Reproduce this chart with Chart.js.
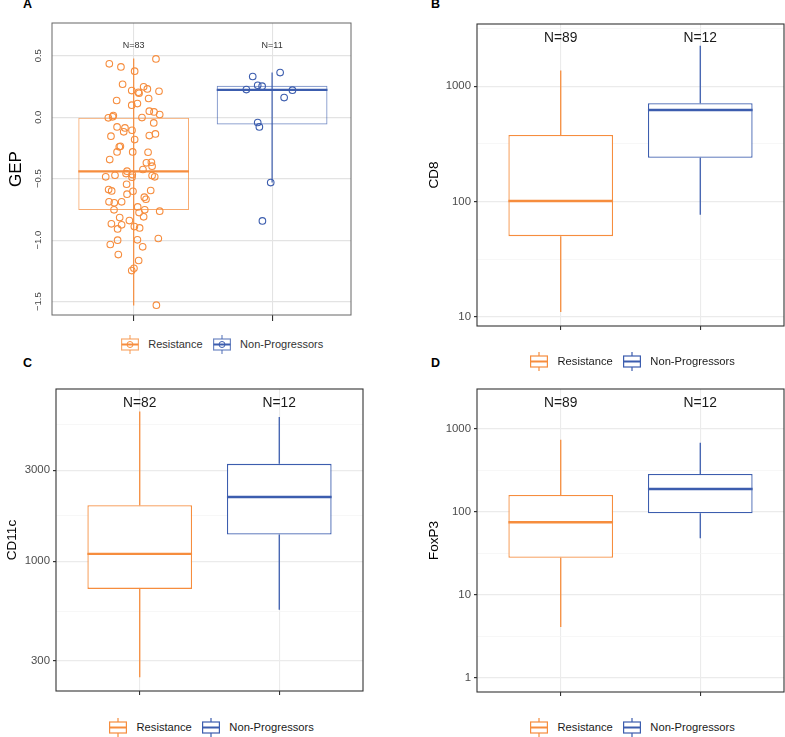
<!DOCTYPE html>
<html>
<head>
<meta charset="utf-8">
<script src="https://cdn.jsdelivr.net/npm/chart.js@4/dist/chart.umd.min.js"></script>
<style>
body{margin:0;background:#fff;width:785px;height:737px;position:relative;overflow:hidden;font-family:"Liberation Sans",Arial,sans-serif}
canvas.plot{position:absolute}
.tag{position:absolute;font-weight:bold;font-size:12.5px;line-height:12.5px;color:#000}
.legend{position:absolute;display:flex;align-items:center;height:19px;white-space:nowrap}
.legend canvas{display:block;margin-right:9.5px}
.legend span{margin-right:10px;line-height:19px}
</style>
</head>
<body>
<div class="tag" style="left:23px;top:-2px">A</div>
<div class="tag" style="left:431px;top:-2px">B</div>
<div class="tag" style="left:23px;top:357px">C</div>
<div class="tag" style="left:431px;top:357px">D</div>

<canvas id="gep" class="plot" width="390" height="325" style="left:0;top:0"></canvas>
<canvas id="cd8" class="plot" width="390" height="336" style="left:395px;top:0"></canvas>
<canvas id="cd11c" class="plot" width="390" height="331" style="left:0;top:370px"></canvas>
<canvas id="foxp3" class="plot" width="390" height="332" style="left:395px;top:370px"></canvas>

<script>
Chart.defaults.font.family = '"Liberation Sans", Arial, sans-serif';
Chart.defaults.animation = false;

const groups = ['Resistance', 'Non-Progressors'];
const orange = '#F68D3E';
const blue = '#3C5DAE';

// A: GEP
const gepN = [83, 11];
const gepLow = [-1.53, -0.53];
const gepQ1 = [-0.754, -0.06];
const gepMed = [-0.44, 0.222];
const gepQ3 = [0.0, 0.255];
const gepHigh = [0.477, 0.363];
const gepTicks = [-1.5, -1.0, -0.5, 0.0, 0.5];
const gepResJitter = [-0.176,-0.092,0.007,0.161,-0.080,0.072,0.099,-0.014,0.034,0.039,0.183,-0.123,0.108,-0.014,0.027,0.113,0.147,0.188,-0.147,-0.152,-0.183,0.060,0.145,-0.120,-0.063,-0.072,-0.012,-0.164,0.007,0.113,0.157,-0.096,-0.104,-0.120,-0.007,0.104,-0.173,0.092,0.128,0.133,0.067,-0.048,-0.055,-0.135,-0.202,-0.012,0.133,0.152,-0.051,-0.181,-0.159,-0.005,-0.048,0.123,0.077,0.089,-0.178,-0.140,-0.087,0.029,0.039,0.080,-0.142,0.188,0.072,-0.101,-0.031,-0.161,-0.087,-0.116,0.005,0.043,-0.169,-0.116,0.027,0.178,0.065,-0.111,0.036,0.002,-0.014,0.164,-0.010];
const gepResValue = [0.434,0.409,0.374,0.474,0.268,0.247,0.230,0.217,0.203,0.195,0.211,0.136,0.152,0.098,0.111,0.049,0.043,0.022,0.014,0.003,-0.005,-0.003,-0.046,-0.079,-0.087,-0.119,-0.106,-0.154,-0.182,-0.149,-0.136,-0.236,-0.241,-0.282,-0.282,-0.285,-0.344,-0.371,-0.366,-0.398,-0.425,-0.439,-0.458,-0.472,-0.485,-0.488,-0.474,-0.485,-0.545,-0.588,-0.599,-0.602,-0.626,-0.596,-0.650,-0.667,-0.688,-0.696,-0.688,-0.729,-0.775,-0.753,-0.753,-0.764,-0.810,-0.816,-0.840,-0.867,-0.875,-0.908,-0.889,-0.900,-1.035,-1.000,-0.997,-0.986,-1.054,-1.117,-1.165,-1.228,-1.247,-1.528,-0.466];
const gepNpJitter = [-0.140,0.058,-0.186,-0.104,-0.072,0.147,0.087,-0.104,-0.092,-0.010,-0.070];
const gepNpValue = [0.331,0.363,0.225,0.260,0.252,0.220,0.160,-0.043,-0.079,-0.531,-0.843];

// B: CD8
const cd8N = [89, 12];
const cd8Low = [11, 76.6];
const cd8Q1 = [50, 239];
const cd8Med = [101, 622];
const cd8Q3 = [378, 713];
const cd8High = [1366, 2249];
const cd8Ticks = [10, 100, 1000];

// C: CD11c
const cd11cN = [82, 12];
const cd11cLow = [247, 557];
const cd11cQ1 = [716, 1379];
const cd11cMed = [1092, 2168];
const cd11cQ3 = [1966, 3236];
const cd11cHigh = [6080, 5690];
const cd11cTicks = [300, 1000, 3000];

// D: FoxP3
const foxp3N = [89, 12];
const foxp3Low = [4.1, 47.9];
const foxp3Q1 = [27.9, 95.6];
const foxp3Med = [74.5, 187.6];
const foxp3Q3 = [159, 284];
const foxp3High = [731, 672];
const foxp3Ticks = [1, 10, 100, 1000];

// minor grid lines halfway (in log space) between the labelled ticks
function withMinor(major, lo, hi) {
  const L = major.map(Math.log10);
  const n = L.length;
  const out = [];
  const add = (v, m) => { if (v >= lo && v <= hi) out.push({value: v, major: m}); };
  add(Math.pow(10, L[0] - (L[1] - L[0]) / 2), false);
  major.forEach((t, i) => {
    add(t, true);
    if (i < n - 1) add(Math.pow(10, (L[i] + L[i + 1]) / 2), false);
  });
  add(Math.pow(10, L[n - 1] + (L[n - 1] - L[n - 2]) / 2), false);
  return out;
}

function boxParts(s) {
  return {
    id: 'boxParts',
    beforeDatasetsDraw(chart) {
      const {ctx, scales: {x, y}} = chart;
      ctx.save();
      ctx.lineWidth = s.whiskerWidth;
      s.low.forEach((lo, i) => {
        const px = x.getPixelForValue(i + 1);
        ctx.strokeStyle = s.colors[i];
        ctx.beginPath();
        if (s.through) {
          ctx.moveTo(px, y.getPixelForValue(lo));
          ctx.lineTo(px, y.getPixelForValue(s.high[i]));
        } else {
          ctx.moveTo(px, y.getPixelForValue(lo));
          ctx.lineTo(px, y.getPixelForValue(s.q1[i]));
          ctx.moveTo(px, y.getPixelForValue(s.q3[i]));
          ctx.lineTo(px, y.getPixelForValue(s.high[i]));
        }
        ctx.stroke();
      });
      ctx.restore();
    },
    afterDatasetDraw(chart, args) {
      if (args.meta.type !== 'bar') return;
      const {ctx, scales: {y}} = chart;
      ctx.save();
      ctx.lineWidth = s.medWidth;
      args.meta.data.forEach((bar, i) => {
        const py = y.getPixelForValue(s.med[i]);
        ctx.strokeStyle = s.colors[i];
        ctx.beginPath();
        ctx.moveTo(bar.x - bar.width / 2, py);
        ctx.lineTo(bar.x + bar.width / 2, py);
        ctx.stroke();
      });
      ctx.restore();
    },
    afterDraw(chart) {
      const {ctx, chartArea: a, scales: {x, y}} = chart;
      ctx.save();
      ctx.strokeStyle = s.frame;
      ctx.lineWidth = s.frameWidth;
      ctx.strokeRect(a.left, a.top, a.right - a.left, a.bottom - a.top);
      ctx.fillStyle = s.nColor;
      ctx.font = s.nFont;
      ctx.textAlign = 'center';
      ctx.textBaseline = 'middle';
      s.n.forEach((n, i) => ctx.fillText('N=' + n, x.getPixelForValue(i + 1), a.top + s.nOffset));
      if (s.rotTicks) {
        ctx.fillStyle = '#444';
        ctx.font = '9.5px "Liberation Sans", Arial, sans-serif';
        s.rotTicks.forEach(t => {
          ctx.save();
          ctx.translate(s.rotX, y.getPixelForValue(t));
          ctx.rotate(-Math.PI / 2);
          ctx.fillText(t.toFixed(1).replace('-', '\u2212'), 0, 0);
          ctx.restore();
        });
      }
      ctx.restore();
    }
  };
}

function makeChart(id, s) {
  const datasets = [{
    type: 'bar',
    data: s.q1.map((q, i) => ({x: i + 1, y: [q, s.q3[i]]})),
    backgroundColor: s.fill,
    borderColor: s.boxColors,
    borderWidth: s.boxWidth,
    borderSkipped: false,
    categoryPercentage: 1,
    barPercentage: s.barPct,
    order: 2
  }];
  (s.points || []).forEach((p, i) => datasets.push({
    type: 'scatter',
    data: p.dx.map((d, k) => ({x: i + 1 + d, y: p.v[k]})),
    pointRadius: 3.3,
    pointBorderWidth: 1.1,
    borderColor: s.colors[i],
    backgroundColor: 'rgba(0,0,0,0)',
    order: 0
  }));
  const yTicks = s.log ? withMinor(s.ticks, s.min, s.max) : s.ticks.map(v => ({value: v, major: true}));
  new Chart(document.getElementById(id), {
    type: 'bar',
    data: {datasets},
    options: {
      responsive: false,
      layout: {padding: s.pad},
      plugins: {legend: {display: false}, tooltip: {enabled: false}},
      scales: {
        x: {
          type: 'linear', min: s.xMin, max: s.xMax, offset: false,
          afterBuildTicks: sc => { sc.ticks = [{value: 1}, {value: 2}]; },
          afterFit: sc => { sc.height = 10; },
          ticks: {display: false},
          grid: {offset: false, color: s.gridMajor, lineWidth: 1.1, tickLength: s.xTick, tickColor: '#333', tickWidth: 1.1},
          border: {display: false}
        },
        y: {
          type: s.log ? 'logarithmic' : 'linear', min: s.min, max: s.max,
          afterBuildTicks: sc => { sc.ticks = yTicks.map(t => ({value: t.value, major: t.major})); },
          afterFit: sc => { sc.width = s.axisW; },
          ticks: {
            display: !s.rotTicks, autoSkip: false, padding: 3,
            color: '#4d4d4d', font: {size: 11.4},
            callback: (v, i, t) => t[i].major ? String(v) : ''
          },
          grid: {
            color: c => (c.tick && c.tick.major) ? s.gridMajor : s.gridMinor,
            lineWidth: c => (c.tick && c.tick.major) ? 1.2 : 0.7,
            drawTicks: !s.rotTicks,
            tickLength: 3,
            tickColor: c => (c.tick && c.tick.major) ? '#333' : 'rgba(0,0,0,0)'
          },
          border: {display: false},
          title: {display: true, text: s.title, color: '#000', font: {size: s.titleSize}, padding: {top: s.titlePad, bottom: 0}}
        }
      }
    },
    plugins: [boxParts(s)]
  });
}

const ggBase = {
  log: true, xMin: 0.4, xMax: 2.6, barPct: 0.75, boxWidth: 1.3, whiskerWidth: 1.3, medWidth: 2.4,
  colors: [orange, blue], boxColors: [orange, blue], fill: ['#fff', '#fff'],
  gridMajor: '#ebebeb', gridMinor: '#f3f3f3', frame: '#333', frameWidth: 1.1,
  nColor: '#1a1a1a', nFont: '13.8px "Liberation Sans", Arial, sans-serif',
  xTick: 4, titleSize: 13.5
};

makeChart('gep', {
  log: false, xMin: 0.41, xMax: 2.57, barPct: 0.8, boxWidth: 1, whiskerWidth: 1.2, medWidth: 2.4,
  colors: [orange, blue], boxColors: ['rgba(246,141,62,0.75)', 'rgba(60,93,174,0.75)'], fill: ['rgba(0,0,0,0)', 'rgba(0,0,0,0)'],
  gridMajor: '#e3e3e3', gridMinor: '#e3e3e3', frame: '#666', frameWidth: 1,
  nColor: '#333', nFont: '9px "Liberation Sans", Arial, sans-serif', nOffset: 23,
  xTick: 6, titleSize: 17, titlePad: 6.5, title: 'GEP',
  n: gepN, low: gepLow, q1: gepQ1, med: gepMed, q3: gepQ3, high: gepHigh, through: true,
  ticks: gepTicks, rotTicks: gepTicks, rotX: 38, min: -1.608, max: 0.766,
  points: [{dx: gepResJitter, v: gepResValue}, {dx: gepNpJitter, v: gepNpValue}],
  axisW: 52, pad: {left: 0, right: 39, top: 23, bottom: 0}
});

makeChart('cd8', Object.assign({}, ggBase, {
  title: 'CD8', titlePad: 31, nOffset: 13.7,
  n: cd8N, low: cd8Low, q1: cd8Q1, med: cd8Med, q3: cd8Q3, high: cd8High,
  ticks: cd8Ticks, min: 8.3, max: 3467,
  axisW: 82, pad: {left: 0, right: 1, top: 24, bottom: 0}
}));

makeChart('cd11c', Object.assign({}, ggBase, {
  title: 'CD11c', titlePad: 4.4, nOffset: 14,
  n: cd11cN, low: cd11cLow, q1: cd11cQ1, med: cd11cMed, q3: cd11cQ3, high: cd11cHigh,
  ticks: cd11cTicks, min: 209, max: 7980,
  axisW: 56, pad: {left: 0, right: 27, top: 19, bottom: 0}
}));

makeChart('foxp3', Object.assign({}, ggBase, {
  title: 'FoxP3', titlePad: 31, nOffset: 14,
  n: foxp3N, low: foxp3Low, q1: foxp3Q1, med: foxp3Med, q3: foxp3Q3, high: foxp3High,
  ticks: foxp3Ticks, min: 0.678, max: 2985,
  axisW: 82, pad: {left: 0, right: 1, top: 19, bottom: 0}
}));

// legends
function drawKey(c, col, faded, point) {
  c.lineWidth = 1.2;
  c.strokeStyle = faded ? col.replace(')', ',0.75)').replace('rgb', 'rgba') : col;
  c.beginPath();
  c.moveTo(9, 0); c.lineTo(9, 4);
  c.moveTo(9, 15); c.lineTo(9, 19);
  c.stroke();
  c.strokeRect(0.6, 4, 16.8, 11);
  c.strokeStyle = col;
  c.lineWidth = 2;
  c.beginPath(); c.moveTo(0.6, 9.5); c.lineTo(17.4, 9.5); c.stroke();
  if (point) {
    c.lineWidth = 1;
    c.beginPath(); c.arc(9, 9.5, 3, 0, Math.PI * 2); c.stroke();
  }
}

function addLegend(left, centerY, point, textCol, size) {
  const box = document.createElement('div');
  box.className = 'legend';
  box.style.left = left + 'px';
  box.style.top = (centerY - 9.5) + 'px';
  box.style.fontSize = size + 'px';
  groups.forEach((g, i) => {
    const cv = document.createElement('canvas');
    cv.width = 18; cv.height = 19;
    drawKey(cv.getContext('2d'), i === 0 ? 'rgb(246,141,62)' : 'rgb(60,93,174)', point, point);
    const sp = document.createElement('span');
    sp.textContent = g;
    sp.style.color = textCol;
    box.append(cv, sp);
  });
  document.body.append(box);
}

addLegend(120.7, 344, true, '#333', 11);
addLegend(530, 361.7, false, '#1a1a1a', 11.2);
addLegend(109, 727.3, false, '#1a1a1a', 11.2);
addLegend(530, 727.7, false, '#1a1a1a', 11.2);
</script>
</body>
</html>
